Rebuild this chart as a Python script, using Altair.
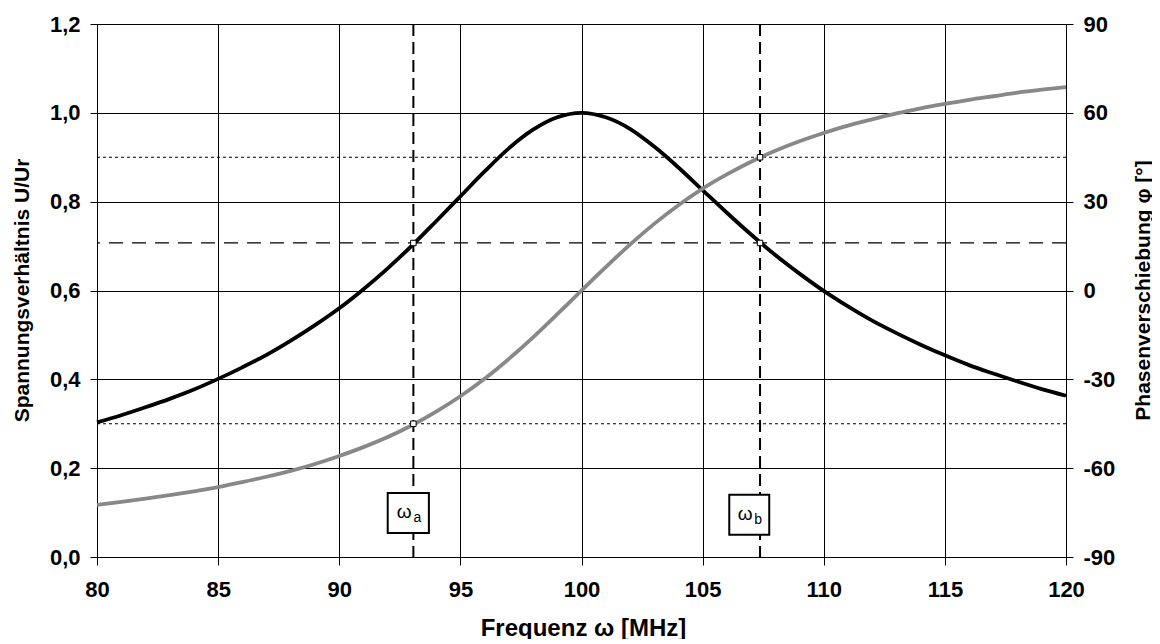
import altair as alt
import pandas as pd

# ---------------- data ----------------
freq = list(range(80, 121))
amplitude = [0.303, 0.319, 0.337, 0.356, 0.377, 0.401, 0.427, 0.455, 0.487, 0.522,
             0.560, 0.603, 0.650, 0.701, 0.756, 0.812, 0.868, 0.920, 0.962, 0.990,
             1.000, 0.990, 0.964, 0.924, 0.877, 0.826, 0.775, 0.726, 0.680, 0.638,
             0.599, 0.564, 0.532, 0.504, 0.478, 0.454, 0.432, 0.413, 0.395, 0.378,
             0.363]
phase = [-72.4, -71.4, -70.3, -69.1, -67.8, -66.4, -64.7, -62.9, -60.9, -58.6,
         -55.9, -52.9, -49.5, -45.5, -40.9, -35.7, -29.8, -23.1, -15.8, -8.0,
         0.0, 7.9, 15.5, 22.5, 28.8, 34.4, 39.2, 43.5, 47.2, 50.4,
         53.2, 55.7, 57.8, 59.8, 61.5, 63.0, 64.4, 65.6, 66.8, 67.8,
         68.7]

freq_ticks = [80, 85, 90, 95, 100, 105, 110, 115, 120]
ratio_ticks = [0.0, 0.2, 0.4, 0.6, 0.8, 1.0, 1.2]
phase_ticks = [-90, -60, -30, 0, 30, 60, 90]

band_freq = [93.06, 107.37]          # omega_a, omega_b
limit_ratio = [0.707]                # long dashed line
phase45_ratio = [0.3, 0.9]           # dotted lines (-45 deg / +45 deg)
marker_freq = [93.06, 93.06, 107.37, 107.37]
marker_ratio = [0.707, 0.3, 0.707, 0.9]

box_x1 = [92.0, 106.1]
box_x2 = [93.7, 107.75]
box_y1 = [0.054, 0.050]
box_y2 = [0.144, 0.140]
box_sym = ["ω", "ω"]
box_sub = ["a", "b"]

FONT = "Liberation Sans"
W, H = 969, 533

df = pd.DataFrame({"f": freq, "u": amplitude, "phi": phase})
df_v = pd.DataFrame({"f": band_freq})
df_lim = pd.DataFrame({"u": limit_ratio})
df_45 = pd.DataFrame({"u": phase45_ratio})
df_m = pd.DataFrame({"f": marker_freq, "u": marker_ratio})
df_box = pd.DataFrame({"x1": box_x1, "x2": box_x2, "y1": box_y1, "y2": box_y2,
                       "sym": box_sym, "sub": box_sub})
df_box["xc"] = (df_box["x1"] + df_box["x2"]) / 2
df_box["yc"] = (df_box["y1"] + df_box["y2"]) / 2

xscale = alt.Scale(domain=[80, 120], nice=False, zero=False)
yleft = alt.Scale(domain=[0, 1.2], nice=False, zero=False)
yright = alt.Scale(domain=[-90, 90], nice=False, zero=False)

x_axis = alt.Axis(values=freq_ticks, title="Frequenz ω [MHz]", grid=True,
                  gridColor="black", gridOpacity=1, gridWidth=1,
                  domainColor="black", tickColor="black", tickSize=8,
                  labelFlush=False, labelOverlap=False,
                  labelFont=FONT, labelFontSize=22, labelFontWeight="bold",
                  labelColor="black", labelPadding=14,
                  titleFont=FONT, titleFontSize=24, titleFontWeight="bold",
                  titleColor="black", titleX=486, titleY=71,
                  titleAlign="center", titleBaseline="middle")

yl_axis = alt.Axis(values=ratio_ticks, title="Spannungsverhältnis U/Ur", grid=True,
                   gridColor="black", gridOpacity=1, gridWidth=1,
                   domainColor="black", tickColor="black", tickSize=7,
                   labelFlush=False, labelOverlap=False,
                   labelExpr="replace(format(datum.value, '.1f'), '.', ',')",
                   labelFont=FONT, labelFontSize=22, labelFontWeight="bold",
                   labelColor="black", labelPadding=10,
                   titleFont=FONT, titleFontSize=21, titleFontWeight="bold",
                   titleColor="black", titleAngle=270, titleX=-75, titleY=266,
                   titleAlign="center", titleBaseline="middle")

yr_axis = alt.Axis(values=phase_ticks, title="Phasenverschiebung φ [°]", grid=False,
                   orient="right", domainColor="black", tickColor="black", tickSize=7,
                   labelFlush=False, labelOverlap=False,
                   labelExpr="toString(datum.value)",
                   labelFont=FONT, labelFontSize=22, labelFontWeight="bold",
                   labelColor="black", labelPadding=10,
                   titleFont=FONT, titleFontSize=21, titleFontWeight="bold",
                   titleColor="black", titleAngle=270, titleX=77, titleY=266,
                   titleAlign="center", titleBaseline="middle")

black_line = alt.Chart(df).mark_line(color="black", strokeWidth=3.8,
                                     interpolate="monotone").encode(
    x=alt.X("f:Q", scale=xscale, axis=x_axis),
    y=alt.Y("u:Q", scale=yleft, axis=yl_axis),
)

lim_rule = alt.Chart(df_lim).mark_rule(color="black", strokeWidth=1.2,
                                       strokeDash=[14, 9]).encode(
    y=alt.Y("u:Q", scale=yleft, axis=yl_axis))
rule45 = alt.Chart(df_45).mark_rule(color="black", strokeWidth=1.2,
                                    strokeDash=[3, 3]).encode(
    y=alt.Y("u:Q", scale=yleft, axis=yl_axis))
v_rules = alt.Chart(df_v).mark_rule(color="black", strokeWidth=2,
                                    strokeDash=[12, 6]).encode(
    x=alt.X("f:Q", scale=xscale, axis=x_axis))

left_base = alt.layer(black_line, lim_rule, rule45, v_rules)

gray_line = alt.Chart(df).mark_line(color="#888888", strokeWidth=3.8,
                                    interpolate="monotone").encode(
    x=alt.X("f:Q", scale=xscale, axis=x_axis),
    y=alt.Y("phi:Q", scale=yright, axis=yr_axis),
)

markers = alt.Chart(df_m).mark_point(shape="square", size=30, filled=True,
                                     fill="white", stroke="black", strokeWidth=1,
                                     opacity=1).encode(
    x=alt.X("f:Q", scale=xscale, axis=x_axis),
    y=alt.Y("u:Q", scale=yleft, axis=None))

boxes = alt.Chart(df_box).mark_rect(fill="white", stroke="black", strokeWidth=2).encode(
    x=alt.X("x1:Q", scale=xscale, axis=x_axis), x2="x2:Q",
    y=alt.Y("y1:Q", scale=yleft, axis=None), y2="y2:Q")

sym_text = alt.Chart(df_box).mark_text(font=FONT, fontSize=19, color="black",
                                       dx=-4, dy=-1).encode(
    x=alt.X("xc:Q", scale=xscale, axis=x_axis),
    y=alt.Y("yc:Q", scale=yleft, axis=None), text="sym:N")
sub_text = alt.Chart(df_box).mark_text(font=FONT, fontSize=14, color="black",
                                       dx=9, dy=5).encode(
    x=alt.X("xc:Q", scale=xscale, axis=x_axis),
    y=alt.Y("yc:Q", scale=yleft, axis=None), text="sub:N")

left_top = alt.layer(markers, boxes, sym_text, sub_text)

chart = alt.layer(left_base, gray_line, left_top).resolve_scale(
    y="independent"
).properties(
    width=W, height=H,
    autosize=alt.AutoSizeParams(type="none"),
    padding={"left": 89, "top": 16, "right": 86, "bottom": 82},
).configure_view(stroke="black", strokeWidth=1).configure(background="white")

chart.save("out.html", embed_options={"renderer": "svg", "actions": False})
